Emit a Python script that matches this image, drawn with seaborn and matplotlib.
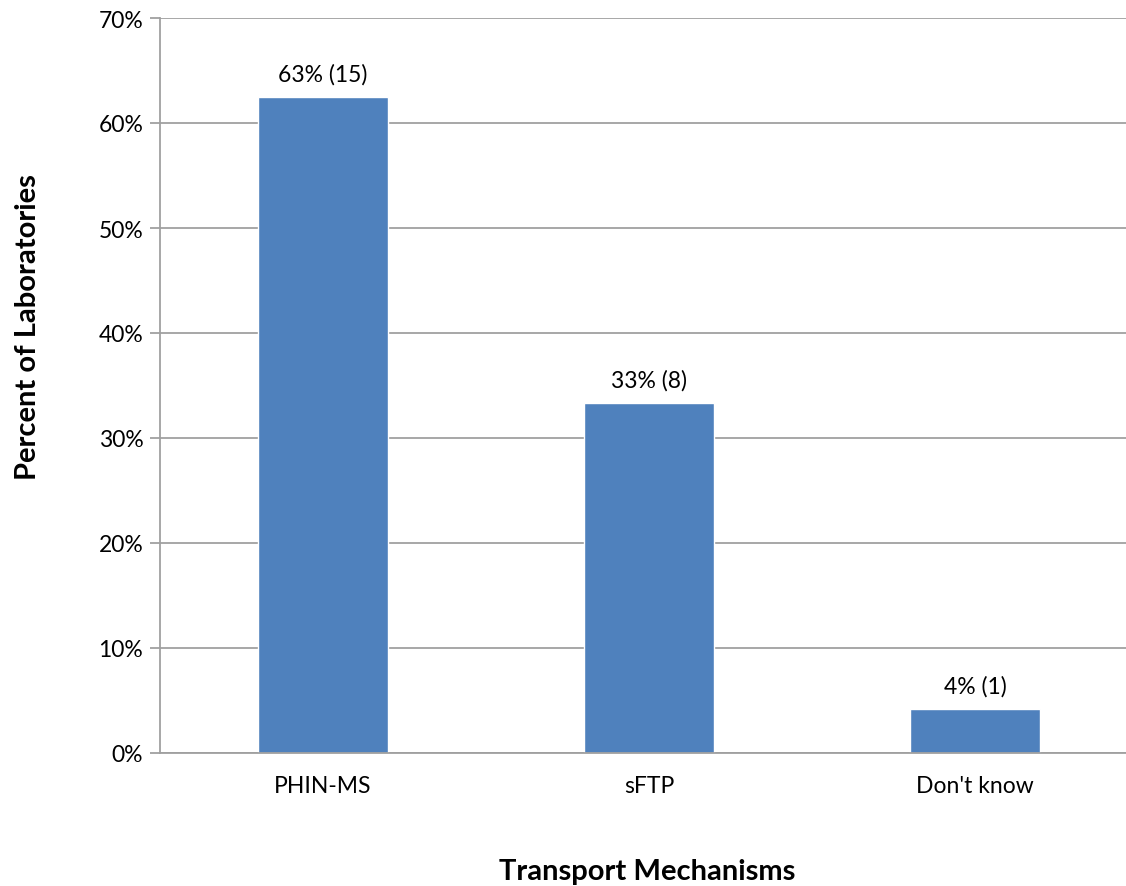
import matplotlib
matplotlib.use("Agg")
import matplotlib.pyplot as plt
import numpy as np
import pandas as pd
import seaborn as sns
from matplotlib.ticker import FixedLocator, PercentFormatter

mechanisms = ["PHIN-MS", "sFTP", "Don't know"]
percents = [62.5, 33.3, 4.2]
counts = [15, 8, 1]
bar_labels = ["63% (15)", "33% (8)", "4% (1)"]

df = pd.DataFrame({"mechanism": mechanisms, "percent": percents})

sns.set_style("white")
plt.rcParams["font.family"] = ["Lato", "DejaVu Sans"]
plt.rcParams["text.color"] = "black"
plt.rcParams["xtick.labelcolor"] = "black"
plt.rcParams["ytick.labelcolor"] = "black"

fig = plt.figure(figsize=(11.26, 8.87), dpi=100)
W, H = 1126, 887
# plot area runs past the right edge of the image, as in the reference
ax = fig.add_axes([160 / W, 1 - 754 / H, 978 / W, (754 - 19) / H])

sns.barplot(data=df, x="mechanism", y="percent", color="#4F81BD",
            width=0.4, saturation=1, ax=ax)

for i, (p, lab) in enumerate(zip(percents, bar_labels)):
    ax.annotate(lab, (i, p), xytext=(0, 9), textcoords="offset points",
                ha="center", va="bottom", fontsize=16.5, color="black")

ax.set_xlim(-0.5, 2.5)
ax.set_ylim(0, 70)
ax.set_yticks(np.arange(0, 71, 10))
ax.yaxis.set_major_formatter(PercentFormatter(decimals=0))
ax.grid(axis="y", color="#A0A0A0", linewidth=1.3)
ax.set_axisbelow(True)

ax.xaxis.set_minor_locator(FixedLocator([-0.5, 0.5, 1.5, 2.5]))
ax.tick_params(axis="x", which="major", length=0, pad=16, labelsize=16.5)
ax.tick_params(axis="x", which="minor", length=7, color="#A0A0A0", width=1.3, direction="out")
ax.tick_params(axis="y", length=7, color="#A0A0A0", width=1.3, direction="out",
               labelsize=16.5, pad=5, left=True)

for side in ["top", "right"]:
    ax.spines[side].set_visible(False)
for side in ["left", "bottom"]:
    ax.spines[side].set_color("#A0A0A0")
    ax.spines[side].set_linewidth(1.3)

ax.set_xlabel("")
ax.set_ylabel("")
fig.text(647 / W, 1 - 872 / H, "Transport Mechanisms", ha="center", va="center",
         fontsize=21, fontweight="bold")
fig.text(28 / W, 1 - 327 / H, "Percent of Laboratories", ha="center", va="center",
         rotation=90, fontsize=21, fontweight="bold")

fig.savefig("out.png", dpi=100)
